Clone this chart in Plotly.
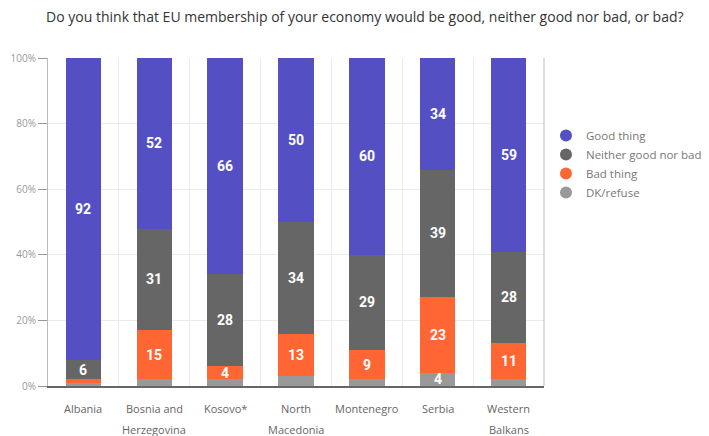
import plotly.graph_objects as go

categories = ["Albania", "Bosnia and<br>Herzegovina", "Kosovo*", "North<br>Macedonia",
              "Montenegro", "Serbia", "Western<br>Balkans"]
dk_refuse = [1, 2, 2, 3, 2, 4, 2]
bad_thing = [1, 15, 4, 13, 9, 23, 11]
neither = [6, 31, 28, 34, 29, 39, 28]
good_thing = [92, 52, 66, 50, 60, 34, 59]

y_ticks = [0, 20, 40, 60, 80, 100]
y_tick_labels = ["0%", "20%", "40%", "60%", "80%", "100%"]

series = [
    ("DK/refuse", dk_refuse, "#999999"),
    ("Bad thing", bad_thing, "#FF6633"),
    ("Neither good nor bad", neither, "#666666"),
    ("Good thing", good_thing, "#5450C4"),
]

fig = go.Figure()
for name, vals, color in series:
    fig.add_trace(go.Bar(x=categories, y=vals, name=name, marker_color=color,
                         marker_line_width=0, showlegend=False, hoverinfo="skip"))

annotations = []
# segment value labels
base = [0] * len(categories)
for name, vals, color in series:
    for i, v in enumerate(vals):
        if v >= 4:
            annotations.append(dict(x=categories[i], y=base[i] + v / 2, text="<b>" + str(v) + "</b>",
                                    showarrow=False, xref="x", yref="y",
                                    font=dict(family="Roboto", size=14, color="white")))
        base[i] += v

# category labels (line by line, with wide line spacing)
for cat in categories:
    for j, line in enumerate(cat.split("<br>")):
        annotations.append(dict(x=cat, y=0, xref="x", yref="paper", text=line,
                                showarrow=False, yanchor="middle", yshift=-22 - 21 * j,
                                font=dict(family="Open Sans", size=11, color="#666666")))

# legend entries with circle markers (top to bottom order)
for name, vals, color in reversed(series):
    fig.add_trace(go.Scatter(x=[None], y=[None], mode="markers", name=name,
                             marker=dict(symbol="circle", size=15, color=color)))

fig.update_layout(
    width=701, height=428,
    barmode="stack", bargap=0.5,
    plot_bgcolor="white", paper_bgcolor="white",
    margin=dict(l=40, r=165, t=50, b=50, autoexpand=False),
    title=dict(text="Do you think that EU membership of your economy would be good, neither good nor bad, or bad?",
               x=0.509, xanchor="center", y=0.99, yanchor="top",
               font=dict(family="Open Sans", size=14, color="#333333")),
    font=dict(family="Open Sans", color="#666666"),
    legend=dict(x=1.004, xanchor="left", y=0.677, yanchor="middle",
                font=dict(size=11.5, color="#777777"), traceorder="normal",
                itemsizing="constant", tracegroupgap=0),
    annotations=annotations,
    showlegend=True,
)
fig.update_xaxes(type="category", tickson="boundaries", showgrid=True, gridcolor="#EBEBEB",
                 showline=True, linecolor="#666666", linewidth=1.5, mirror=False,
                 ticks="", showticklabels=False, automargin=False)
fig.update_yaxes(range=[0, 100], tickvals=y_ticks, ticktext=y_tick_labels,
                 showgrid=True, gridcolor="#EBEBEB", showline=True, linecolor="#BBBBBB",
                 ticks="outside", ticklen=9, tickcolor="#999999", automargin=False,
                 tickfont=dict(size=10, color="#999999"), zeroline=False)
# right border of plot area
fig.add_shape(type="line", xref="paper", yref="paper", x0=1, x1=1, y0=0, y1=1,
              line=dict(color="#BBBBBB", width=1))

fig.write_html("out.html")
